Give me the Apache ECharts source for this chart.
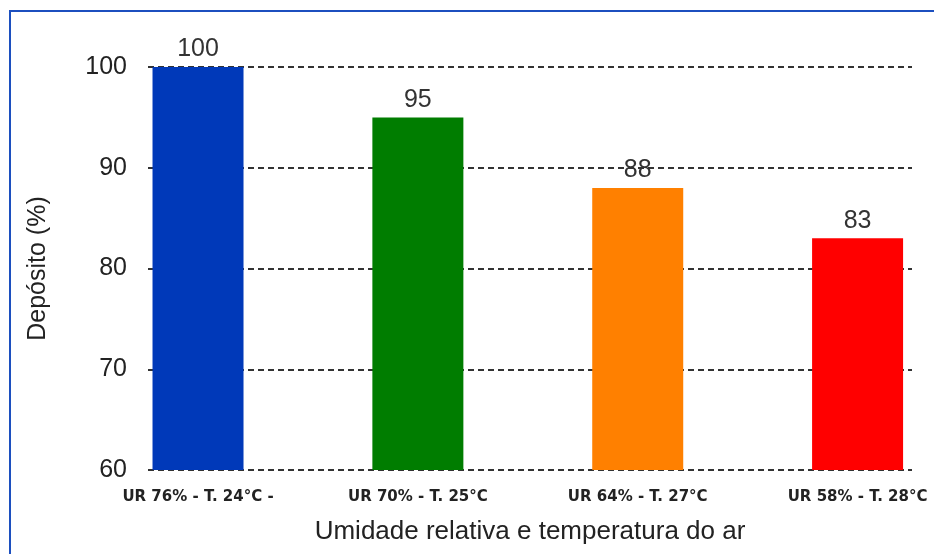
<!DOCTYPE html>
<html>
<head>
<meta charset="utf-8">
<script src="https://cdn.jsdelivr.net/npm/echarts@6/dist/echarts.min.js"></script>
<style>
  html, body { margin: 0; padding: 0; background: #fff; }
  #echart { width: 934px; height: 554px; }
</style>
</head>
<body>
<div id="echart"></div>
<script>
var categories = ['UR 76% - T. 24°C -', 'UR 70% - T. 25°C', 'UR 64% - T. 27°C', 'UR 58% - T. 28°C'];
var deposito = [100, 95, 88, 83];
var barColors = ['#0039b9', '#007d00', '#ff8000', '#ff0000'];
var yTicks = [60, 70, 80, 90, 100];

var myChart = echarts.init(document.getElementById('echart'));

var option = {
  animation: false,
  graphic: [
    {
      // moldura azul
      type: 'rect',
      shape: { x: 10, y: 11, width: 1000, height: 1000 },
      style: { fill: 'none', stroke: '#1c4fbf', lineWidth: 2 }
    }
  ],
  grid: {
    left: 148,
    right: 22,
    top: 67,
    bottom: 84
  },
  xAxis: {
    type: 'value',
    min: -0.2275,
    max: 3.2475,
    name: 'Umidade relativa e temperatura do ar',
    nameLocation: 'middle',
    nameGap: 49,
    nameTextStyle: { fontFamily: 'Liberation Sans', fontSize: 26, color: '#222' },
    axisLine: { show: false },
    axisTick: { show: false },
    splitLine: { show: false },
    axisLabel: {
      customValues: [0, 1, 2, 3],
      margin: 20,
      fontFamily: 'DejaVu Sans',
      fontWeight: 'bold',
      fontSize: 15,
      color: '#222',
      formatter: function (v) {
        return categories[Math.round(v)];
      }
    }
  },
  yAxis: {
    type: 'value',
    min: yTicks[0],
    max: yTicks[yTicks.length - 1],
    interval: 10,
    name: 'Depósito (%)',
    nameLocation: 'middle',
    nameGap: 97,
    nameRotate: 90,
    nameTextStyle: { fontFamily: 'Liberation Sans', fontSize: 25, color: '#222' },
    axisLine: { show: false },
    axisTick: { show: false },
    axisLabel: {
      margin: 21,
      fontFamily: 'Liberation Sans',
      fontSize: 25,
      color: '#222'
    },
    splitLine: {
      show: true,
      lineStyle: { color: '#333', width: 2, type: [6, 4] }
    }
  },
  series: [
    {
      type: 'bar',
      barWidth: 91,
      data: deposito.map(function (v, i) {
        return { value: [i, v], itemStyle: { color: barColors[i] } };
      }),
      label: {
        show: true,
        position: 'top',
        distance: 5,
        fontFamily: 'Liberation Sans',
        fontSize: 25,
        color: '#333',
        formatter: function (p) {
          return p.value[1];
        }
      }
    }
  ]
};
myChart.setOption(option);
</script>
</body>
</html>
